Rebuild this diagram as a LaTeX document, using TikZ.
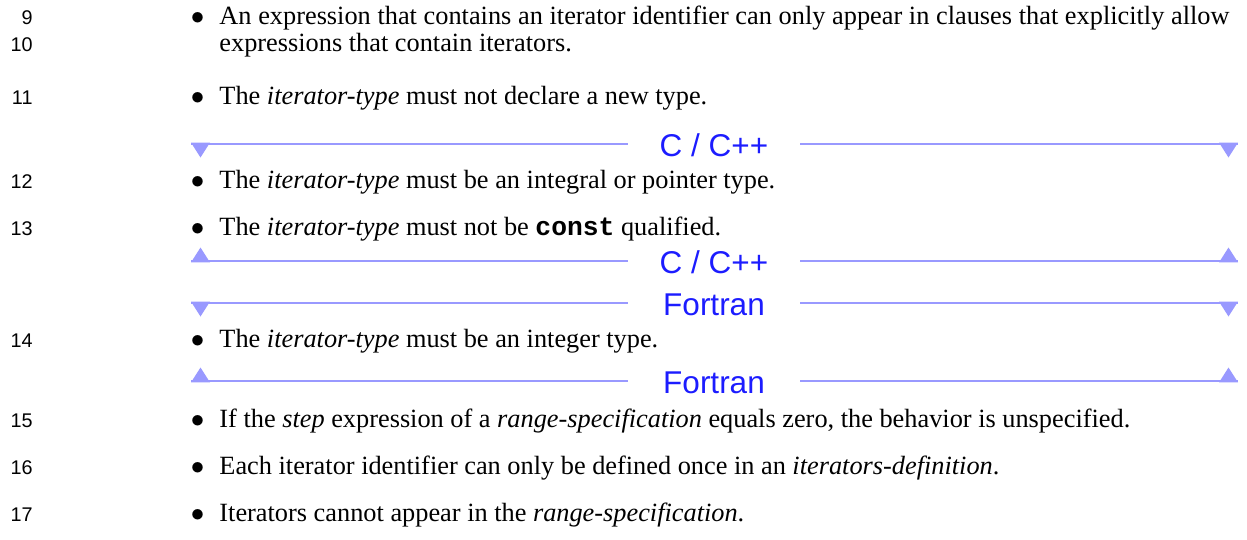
\documentclass[tikz,border=0pt]{standalone}
\usepackage{fontspec}
\setmainfont{Liberation Serif}
\setsansfont{Liberation Sans}
\setmonofont{Liberation Mono}
\newlength\px
\setlength\px{0.44444pt}
\definecolor{bannerline}{RGB}{153,153,255}
\definecolor{bannertext}{RGB}{28,28,255}
\tikzset{
  lineno/.style={anchor=base east, inner sep=0, font=\sffamily\fontsize{8.8}{10}\selectfont},
  bul/.style={anchor=base, inner sep=0, font=\fontsize{11.7}{14}\selectfont},
  body/.style={anchor=base west, inner sep=0, font=\fontsize{11.7}{14}\selectfont},
  langlabel/.style={anchor=base, inner sep=0, text=bannertext, font=\sffamily\fontsize{14}{16}\selectfont},
  langrule/.style={draw=bannerline, line width=2.8\px},
  langtip/.style={fill=bannerline, draw=none}
}
% #1 name, #2 y of the rule, #3 label, #4 direction of the tips (1 down, -1 up)
\newcommand\langbanner[4]{%
  \node[langlabel] (#1) at (714,{#2+12}) {#3};
  \coordinate (#1-l) at (191,#2);
  \coordinate (#1-r) at (1238,#2);
  \coordinate (#1-gl) at (628,#2);
  \coordinate (#1-gr) at (800,#2);
  \draw[langrule] (#1-l) -- (#1-gl) (#1-gr) -- (#1-r);
  \path[langtip] (191,{#2-(#4)*1.4}) -- (210,{#2-(#4)*1.4}) -- (200.5,{#2+(#4)*13.5}) -- cycle;
  \path[langtip] (1219,{#2-(#4)*1.4}) -- (1238,{#2-(#4)*1.4}) -- (1228.5,{#2+(#4)*13.5}) -- cycle;
}
\newcommand\itembullet[2]{\node[bul] (#1) at (197.5,#2) {$\bullet$};}
\begin{document}
\begin{tikzpicture}[x=\px, y=-\px]
\useasboundingbox (0,0) rectangle (1247,539);

% item 9-10
\node[lineno] (n9) at (33,24.5) {9};
\itembullet{b9}{24.5}
\node[body] (t9) at (219,24.5) {\makebox[1010\px][s]{An expression that contains an iterator identifier can only appear in clauses that explicitly allow}};
\node[lineno] (n10) at (33,51.5) {10};
\node[body] (t10) at (219,51.5) {expressions that contain iterators.};

% item 11
\node[lineno] (n11) at (33,104.5) {11};
\itembullet{b11}{104.5}
\node[body] (t11) at (219,104.5) {The \textit{iterator-type} must not declare a new type.};

\langbanner{cA}{144}{C / C++}{1}

% item 12
\node[lineno] (n12) at (33,188) {12};
\itembullet{b12}{188}
\node[body] (t12) at (219,188) {The \textit{iterator-type} must be an integral or pointer type.};

% item 13
\node[lineno] (n13) at (33,235) {13};
\itembullet{b13}{235}
\node[body] (t13) at (219,235) {The \textit{iterator-type} must not be \texttt{\textbf{const}} qualified.};

\langbanner{cB}{261}{C / C++}{-1}
\langbanner{fA}{303}{Fortran}{1}

% item 14
\node[lineno] (n14) at (33,347) {14};
\itembullet{b14}{347}
\node[body] (t14) at (219,347) {The \textit{iterator-type} must be an integer type.};

\langbanner{fB}{381}{Fortran}{-1}

% items 15-17
\node[lineno] (n15) at (33,427) {15};
\itembullet{b15}{427}
\node[body] (t15) at (219,427) {If the \textit{step} expression of a \textit{range-specification} equals zero, the behavior is unspecified.};
\node[lineno] (n16) at (33,474) {16};
\itembullet{b16}{474}
\node[body] (t16) at (219,474) {Each iterator identifier can only be defined once in an \textit{iterators-definition}.};
\node[lineno] (n17) at (33,521) {17};
\itembullet{b17}{521}
\node[body] (t17) at (219,521) {Iterators cannot appear in the \textit{range-specification}.};
\end{tikzpicture}
\end{document}
